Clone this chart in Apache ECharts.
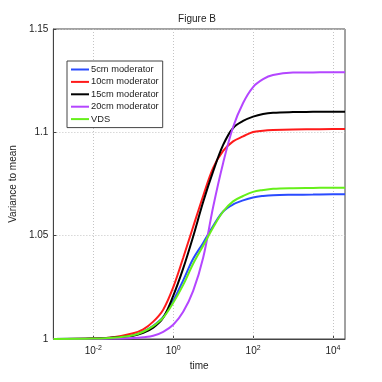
<!DOCTYPE html>
<html>
<head>
<meta charset="utf-8">
<script src="https://cdn.jsdelivr.net/npm/echarts@6/dist/echarts.min.js"></script>
<style>html,body{margin:0;padding:0;background:#fff}#c{width:382px;height:382px}</style>
</head>
<body>
<div id="c"></div>
<script>
var times = [0.001, 0.01, 0.0316, 0.1, 0.178, 0.316, 0.562, 1, 1.78, 3.16, 5.62, 10, 17.8, 31.6, 56.2, 100, 178, 316, 1000, 3162, 10000, 20000];
var mod5  = [1.0000, 1.0002, 1.0006, 1.0018, 1.0036, 1.0064, 1.0107, 1.0185, 1.0284, 1.0388, 1.0465, 1.0547, 1.0617, 1.0651, 1.0671, 1.0685, 1.0692, 1.0696, 1.0698, 1.0699, 1.0700, 1.0700];
var mod10 = [1.0000, 1.0003, 1.0009, 1.0028, 1.0047, 1.0084, 1.0142, 1.0250, 1.0393, 1.0543, 1.0692, 1.0828, 1.0910, 1.0956, 1.0980, 1.1002, 1.1008, 1.1011, 1.1014, 1.1015, 1.1016, 1.1016];
var mod15 = [1.0000, 1.0002, 1.0007, 1.0016, 1.0030, 1.0055, 1.0103, 1.0209, 1.0342, 1.0496, 1.0663, 1.0811, 1.0939, 1.1021, 1.1055, 1.1076, 1.1089, 1.1095, 1.1098, 1.1099, 1.1100, 1.1100];
var mod20 = [1.0000, 1.0001, 1.0002, 1.0005, 1.0009, 1.0016, 1.0035, 1.0069, 1.0132, 1.0233, 1.0393, 1.0639, 1.0852, 1.1026, 1.1142, 1.1219, 1.1257, 1.1277, 1.1289, 1.1290, 1.1291, 1.1291];
var vds   = [1.0000, 1.0002, 1.0006, 1.0018, 1.0035, 1.0062, 1.0103, 1.0175, 1.0262, 1.0364, 1.0451, 1.0540, 1.0617, 1.0666, 1.0692, 1.0712, 1.0721, 1.0727, 1.0730, 1.0731, 1.0732, 1.0732];
var seriesNames = ['5cm moderator', '10cm moderator', '15cm moderator', '20cm moderator', 'VDS'];
var seriesColors = ['#2a4bff', '#ff1a1a', '#000000', '#b446ff', '#66f01a'];
var xTicks = [0.01, 1, 100, 10000];
var xTickLabels = ['10{s|-2}', '10{s|0}', '10{s|2}', '10{s|4}'];

var allData = [mod5, mod10, mod15, mod20, vds];
var FONT = 'Liberation Sans';
var chart = echarts.init(document.getElementById('c'));
var series = seriesNames.map(function (n, i) {
  return {
    name: n, type: 'line', showSymbol: false, smooth: 0.35,
    color: seriesColors[i], z: 3,
    lineStyle: {width: 2, color: seriesColors[i]},
    data: times.map(function (t, j) { return [t, allData[i][j]]; })
  };
});
series[0].markLine = {
  silent: true, symbol: 'none', label: {show: false}, animation: false, z: 1,
  lineStyle: {color: '#c4c4c4', type: [1, 2], width: 1},
  data: xTicks.map(function (v) { return {xAxis: v}; })
};
chart.setOption({
  animation: false,
  backgroundColor: '#fff',
  textStyle: {fontFamily: FONT},
  title: {
    text: 'Figure B', left: 197, top: 14, textAlign: 'center', padding: 0,
    textStyle: {fontSize: 10, fontWeight: 'normal', color: '#222', fontFamily: FONT}
  },
  legend: {
    orient: 'vertical', left: 67, top: 61, padding: [3, 4, 3, 4],
    backgroundColor: '#fff', borderColor: '#444', borderWidth: 1, borderRadius: 0,
    itemWidth: 18, itemHeight: 2, itemGap: 1.4, icon: 'rect',
    textStyle: {fontSize: 9.3, color: '#222', fontFamily: FONT, lineHeight: 11, padding: [0, 0, 0, -3]},
    data: seriesNames
  },
  grid: {left: 49, right: 37, top: 29, bottom: 43, show: true, borderColor: '#444', borderWidth: 1, backgroundColor: 'transparent'},
  xAxis: {
    type: 'log', logBase: 10, min: 0.001, max: 20000,
    name: 'time', nameLocation: 'middle', nameGap: 19,
    nameTextStyle: {fontSize: 10, color: '#222', fontFamily: FONT},
    axisLine: {show: true, lineStyle: {color: '#444'}},
    axisTick: {show: true, inside: true, length: 3, customValues: xTicks, lineStyle: {color: '#444'}},
    axisLabel: {
      customValues: xTicks, fontSize: 10, color: '#222', margin: 6,
      formatter: function (v) { var i = xTicks.indexOf(v); return i >= 0 ? xTickLabels[i] : ''; },
      rich: {s: {fontSize: 7, verticalAlign: 'top', padding: [0, 0, 6, 0], color: '#222'}}
    },
    splitLine: {show: false}
  },
  yAxis: {
    type: 'value', min: 1, max: 1.15, interval: 0.05,
    name: 'Variance to mean', nameLocation: 'middle', nameGap: 31,
    nameTextStyle: {fontSize: 10, color: '#222', fontFamily: FONT},
    axisLine: {show: true, lineStyle: {color: '#444'}},
    axisTick: {show: true, inside: true, length: 3, lineStyle: {color: '#444'}},
    axisLabel: {fontSize: 10, color: '#222', margin: 5, formatter: function (v) { return String(+v.toFixed(2)); }},
    splitLine: {show: true, lineStyle: {color: '#c4c4c4', type: [1, 2], width: 1}}
  },
  series: series
});
</script>
</body>
</html>
